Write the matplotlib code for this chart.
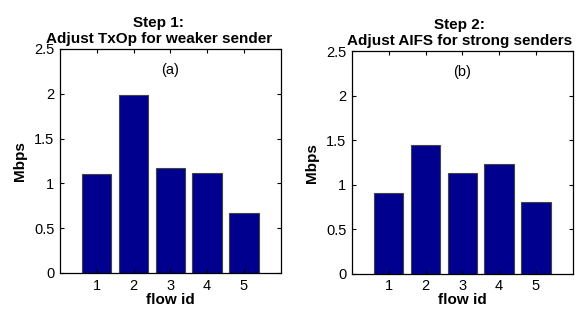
import matplotlib
matplotlib.use('Agg')
import matplotlib.pyplot as plt

plt.rcParams['font.family'] = ['Liberation Sans', 'DejaVu Sans']

flows = [1, 2, 3, 4, 5]
step1_mbps = [1.10, 1.99, 1.17, 1.12, 0.67]
step2_mbps = [0.91, 1.45, 1.13, 1.23, 0.81]
titles = ['Step 1:\nAdjust TxOp for weaker sender', 'Step 2:\nAdjust AIFS for strong senders']
tags = ['(a)', '(b)']
yticks = [0, 0.5, 1, 1.5, 2, 2.5]
ylabels = ['0', '0.5', '1', '1.5', '2', '2.5']

fig = plt.figure(figsize=(5.84, 3.12), dpi=100)
ax1 = fig.add_axes([0.1027, 0.125, 0.378, 0.718])
ax2 = fig.add_axes([0.6027, 0.122, 0.378, 0.713])

# title centres, in axes fraction, as they sit in the original
title_x = [0.448, 0.489]

for ax, vals, title, tag, tx in zip([ax1, ax2], [step1_mbps, step2_mbps], titles, tags, title_x):
    ax.bar(flows, vals, width=0.8, color='#00008f', edgecolor='#444444', linewidth=0.8)
    ax.set_xlim(0, 6)
    ax.set_ylim(0, 2.5)
    ax.set_xticks(flows)
    ax.set_yticks(yticks)
    ax.set_yticklabels(ylabels)
    ax.tick_params(direction='in', length=3, width=0.8, labelsize=10.5, pad=4,
                   top=True, right=True)
    for s in ax.spines.values():
        s.set_linewidth(0.9)
    ax.set_xlabel('flow id', fontsize=11, fontweight='bold', labelpad=0)
    ax.set_ylabel('Mbps', fontsize=11, fontweight='bold', labelpad=5)
    t = ax.set_title(title, fontsize=11, fontweight='bold', pad=4.5, linespacing=1.2)
    t.set_x(tx)
    ax.text(3, 2.27, tag, ha='center', va='center', fontsize=10.5)

fig.savefig('out.png', dpi=100)
